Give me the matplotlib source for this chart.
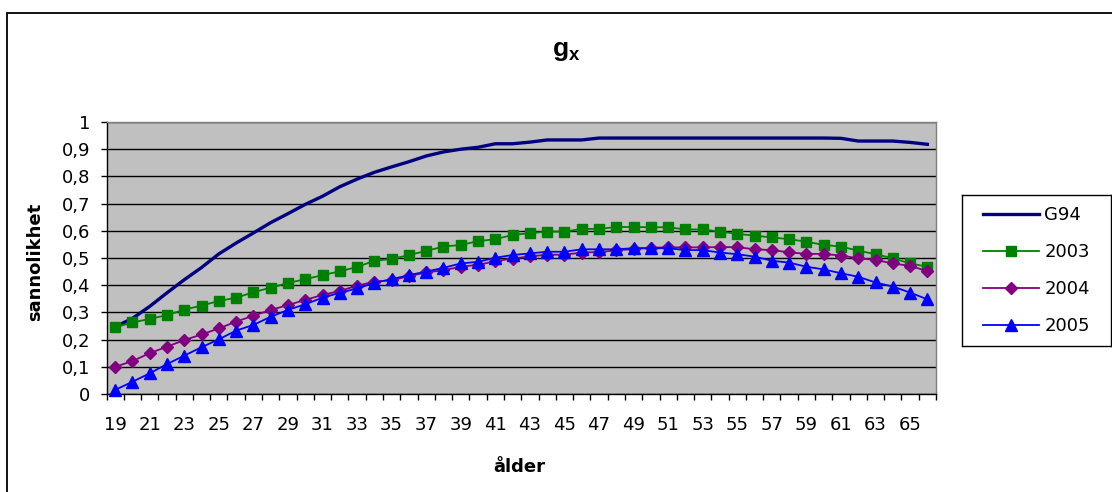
import matplotlib
matplotlib.use('Agg')
import matplotlib.pyplot as plt
from matplotlib.patches import Rectangle

plt.rcParams['font.family'] = ['DejaVu Sans']
plt.rcParams['mathtext.fontset'] = 'custom'
plt.rcParams['mathtext.bf'] = 'Liberation Sans:bold'
plt.rcParams['mathtext.rm'] = 'Liberation Sans'

ages = [19, 20, 21, 22, 23, 24, 25, 26, 27, 28, 29, 30, 31, 32, 33, 34,
        35, 36, 37, 38, 39, 40, 41, 42, 43, 44, 45, 46, 47, 48, 49, 50,
        51, 52, 53, 54, 55, 56, 57, 58, 59, 60, 61, 62, 63, 64, 65, 66]

g94 = [0.247, 0.278, 0.322, 0.372, 0.420, 0.465, 0.515, 0.555, 0.592, 0.630,
       0.663, 0.697, 0.727, 0.762, 0.790, 0.815, 0.835, 0.854, 0.875, 0.890,
       0.900, 0.907, 0.920, 0.920, 0.926, 0.934, 0.934, 0.934, 0.941, 0.941,
       0.941, 0.941, 0.941, 0.941, 0.941, 0.941, 0.941, 0.941, 0.941, 0.941,
       0.941, 0.941, 0.940, 0.930, 0.930, 0.930, 0.925, 0.918]

s2003 = [0.245, 0.263, 0.276, 0.290, 0.310, 0.325, 0.342, 0.354, 0.374, 0.391,
         0.408, 0.422, 0.437, 0.451, 0.467, 0.490, 0.496, 0.511, 0.526, 0.542,
         0.548, 0.562, 0.569, 0.585, 0.591, 0.597, 0.597, 0.607, 0.607, 0.614,
         0.614, 0.613, 0.613, 0.605, 0.605, 0.597, 0.589, 0.582, 0.576, 0.569,
         0.560, 0.548, 0.542, 0.527, 0.514, 0.499, 0.480, 0.468]

s2004 = [0.100, 0.121, 0.150, 0.174, 0.198, 0.219, 0.241, 0.266, 0.288, 0.309,
         0.327, 0.346, 0.364, 0.379, 0.398, 0.413, 0.418, 0.433, 0.447, 0.455,
         0.468, 0.475, 0.488, 0.498, 0.506, 0.512, 0.512, 0.520, 0.522, 0.528,
         0.533, 0.538, 0.539, 0.539, 0.539, 0.540, 0.540, 0.532, 0.529, 0.521,
         0.515, 0.515, 0.509, 0.499, 0.493, 0.480, 0.471, 0.452]

s2005 = [0.015, 0.045, 0.076, 0.110, 0.141, 0.172, 0.201, 0.233, 0.254, 0.284,
         0.309, 0.330, 0.354, 0.372, 0.388, 0.409, 0.422, 0.437, 0.450, 0.464,
         0.480, 0.486, 0.501, 0.511, 0.517, 0.523, 0.523, 0.532, 0.532, 0.532,
         0.536, 0.536, 0.536, 0.529, 0.529, 0.520, 0.514, 0.505, 0.490, 0.483,
         0.468, 0.458, 0.444, 0.431, 0.410, 0.395, 0.373, 0.348]

series_names = ['G94', '2003', '2004', '2005']
y_ticks = [0, 0.1, 0.2, 0.3, 0.4, 0.5, 0.6, 0.7, 0.8, 0.9, 1.0]
y_ticklabels = ['0', '0,1', '0,2', '0,3', '0,4', '0,5', '0,6', '0,7', '0,8', '0,9', '1']
x_ticklabels = [19, 21, 23, 25, 27, 29, 31, 33, 35, 37, 39, 41, 43, 45, 47,
                49, 51, 53, 55, 57, 59, 61, 63, 65]

W, H = 1112, 492
fig = plt.figure(figsize=(W / 100, H / 100), dpi=100)


def fx(px):
    return px / W


def fy(py):
    return 1 - py / H


# outer chart frame (extends past the right/bottom edges)
fig.add_artist(Rectangle((fx(7), fy(520)), (1140 - 7) / W, (520 - 12.5) / H,
                         fill=False, ec='black', lw=1.3,
                         transform=fig.transFigure, clip_on=False))

left, right, top, bottom = 106.5, 936, 122, 394
ax = fig.add_axes([fx(left), fy(bottom), (right - left) / W, (bottom - top) / H])
ax.set_facecolor('#C0C0C0')
ax.set_xlim(18.5, 66.5)
ax.set_ylim(0, 1)

ax.set_yticks(y_ticks)
ax.set_yticklabels(y_ticklabels)
ax.yaxis.grid(True, color='black', lw=1.0)
ax.set_axisbelow(True)

ax.set_xticks(x_ticklabels)
ax.set_xticklabels([str(v) for v in x_ticklabels])
ax.set_xticks([a - 0.5 for a in ages] + [ages[-1] + 0.5], minor=True)
ax.tick_params(axis='x', which='major', length=0, pad=16, labelsize=13)
ax.tick_params(axis='x', which='minor', length=4.5, width=1, color='black', direction='out')
ax.tick_params(axis='y', which='major', length=4.5, width=1, color='black',
               direction='out', pad=7, labelsize=13)

for s in ['left', 'bottom']:
    ax.spines[s].set_color('black')
    ax.spines[s].set_linewidth(1.0)
for s in ['top', 'right']:
    ax.spines[s].set_color('#808080')
    ax.spines[s].set_linewidth(1.0)

ax.plot(ages, g94, color='#000080', lw=2.4, label=series_names[0], clip_on=False, zorder=3)
ax.plot(ages, s2003, color='#008000', lw=1.3, marker='s', markersize=7.0,
        markerfacecolor='#008000', markeredgecolor='#008000',
        label=series_names[1], clip_on=False, zorder=4)
ax.plot(ages, s2004, color='#800080', lw=1.3, marker='D', markersize=6.6,
        markerfacecolor='#800080', markeredgecolor='#800080',
        label=series_names[2], clip_on=False, zorder=5)
ax.plot(ages, s2005, color='#0000FF', lw=1.3, marker='^', markersize=8.5,
        markerfacecolor='#0000FF', markeredgecolor='#0000FF',
        label=series_names[3], clip_on=False, zorder=6)

# title and axis titles
fig.text(fx(566), fy(50), r'$\mathbf{g_x}$', fontsize=19, ha='center', va='center')
fig.text(fx(35), fy(262), 'sannolikhet', fontsize=13, fontweight='bold',
         rotation=90, ha='center', va='center')
fig.text(fx(519), fy(467), 'ålder', fontsize=13, fontweight='bold',
         ha='center', va='center')

# legend box
lx0, lx1, ly0, ly1 = 962, 1111, 195, 346
lax = fig.add_axes([fx(lx0), fy(ly1), (lx1 - lx0) / W, (ly1 - ly0) / H])
lax.set_xticks([])
lax.set_yticks([])
for s in lax.spines.values():
    s.set_color('black')
    s.set_linewidth(1.0)
handles, labels = ax.get_legend_handles_labels()
lax.legend(handles, labels, loc='center', frameon=False, fontsize=13,
           handlelength=3.1, handletextpad=0.3, labelspacing=1.05)

fig.savefig('out.png', dpi=100)
